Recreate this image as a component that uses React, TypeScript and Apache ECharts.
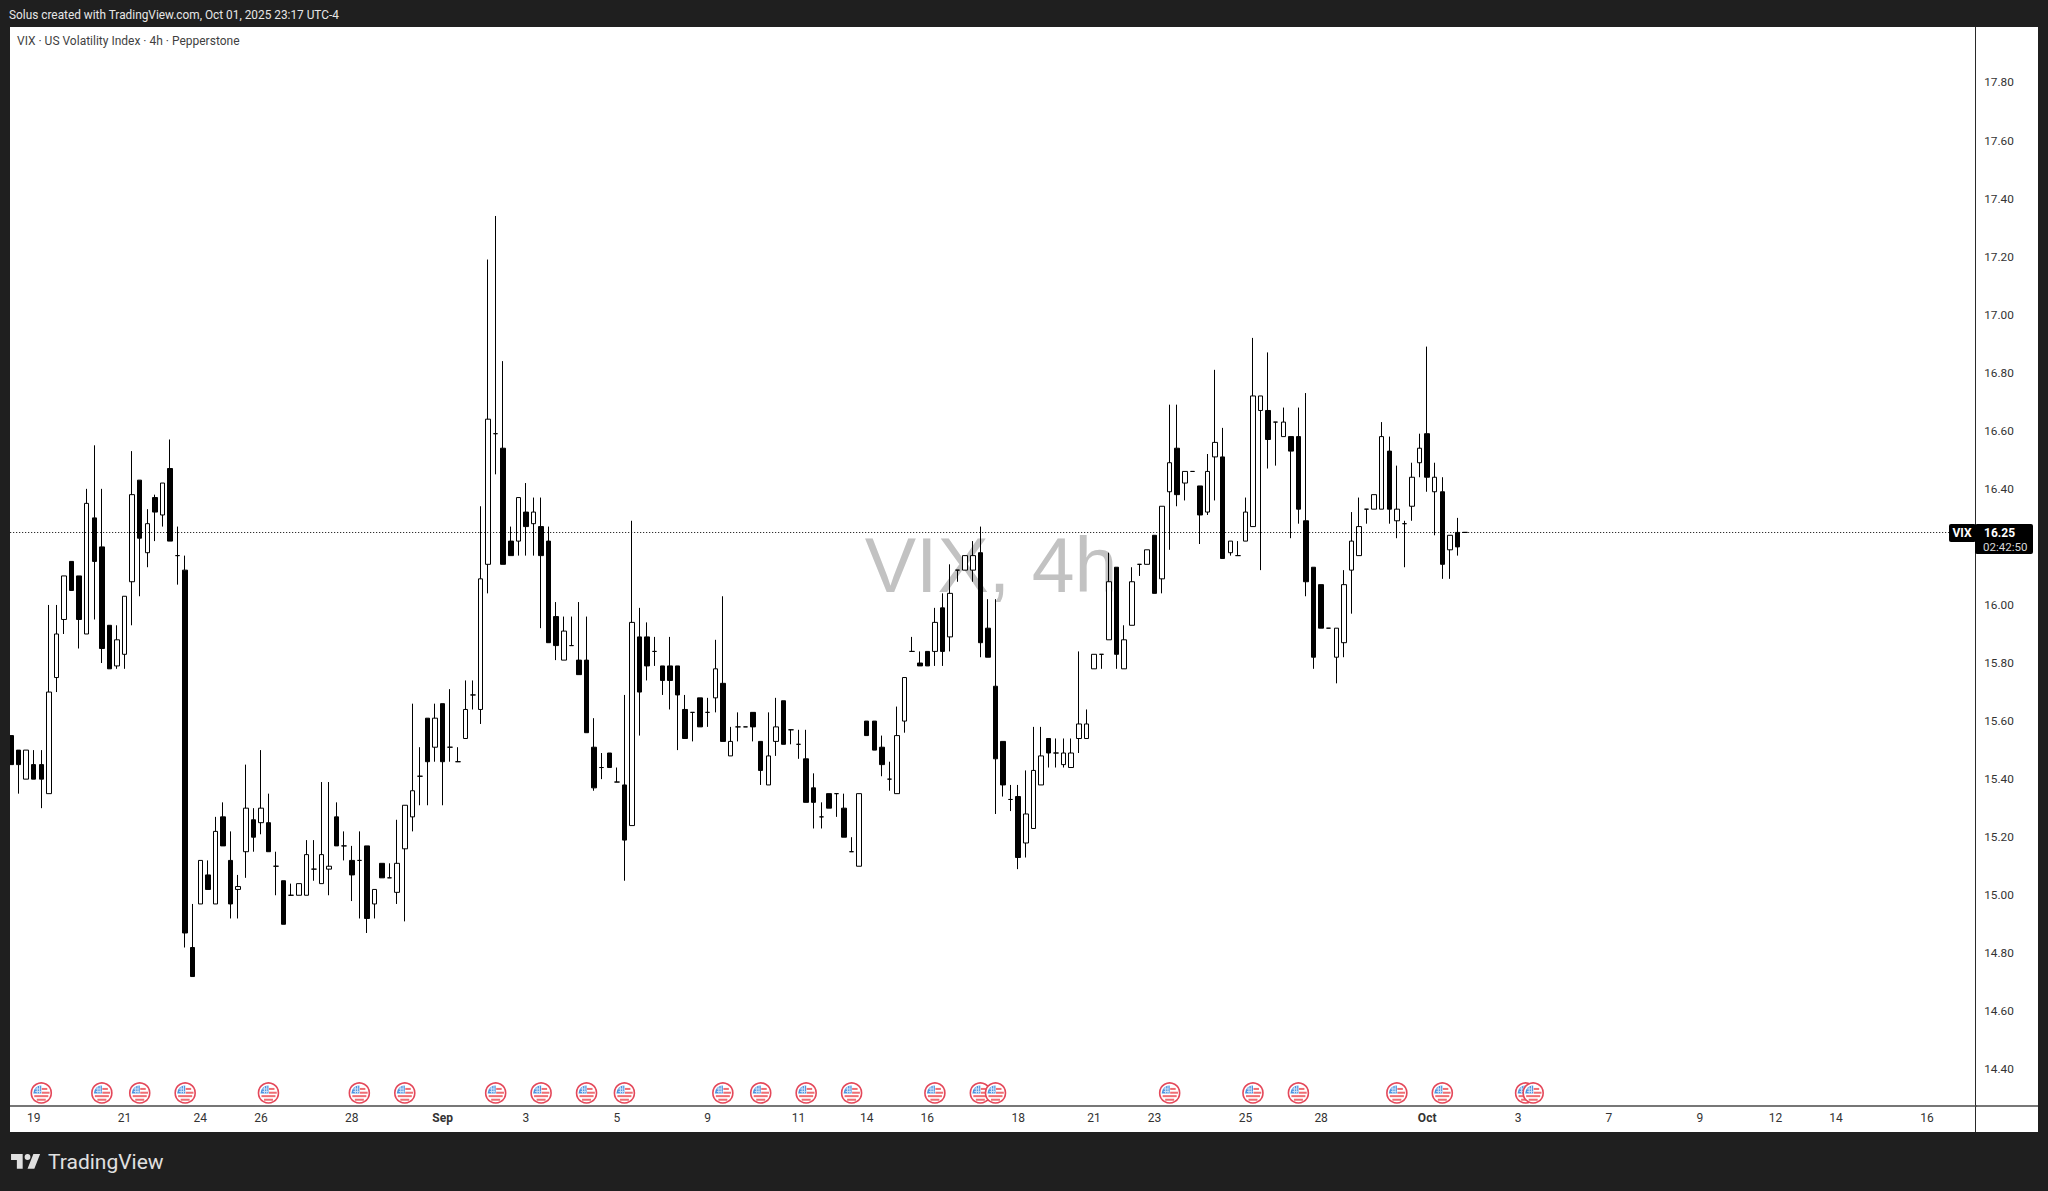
import React, { useEffect, useRef } from "react";
import * as echarts from "echarts";

const opens = [15.55,15.50,15.40,15.45,15.45,15.35,15.75,15.95,16.15,16.10,15.90,16.30,16.20,15.93,15.79,15.83,16.08,16.43,16.18,16.37,16.31,16.47,16.17,16.12,14.82,14.97,15.07,14.97,15.27,15.12,15.02,15.15,15.26,15.25,15.25,15.10,15.05,15.00,15.00,15.00,15.09,15.04,15.09,15.27,15.17,15.12,15.12,15.17,14.97,15.11,15.06,15.01,15.16,15.27,15.41,15.61,15.51,15.66,15.51,15.46,15.54,15.69,15.64,16.14,16.59,16.54,16.22,16.22,16.32,16.28,16.27,16.22,15.96,15.81,15.86,15.81,15.81,15.51,15.44,15.49,15.39,15.38,15.24,15.89,15.89,15.84,15.79,15.79,15.79,15.64,15.63,15.68,15.63,15.68,15.73,15.48,15.58,15.58,15.63,15.53,15.38,15.53,15.67,15.57,15.52,15.47,15.37,15.27,15.35,15.35,15.30,15.15,15.10,15.60,15.60,15.51,15.40,15.35,15.60,15.84,15.80,15.84,15.84,15.99,15.89,16.12,16.12,16.12,16.18,15.92,15.72,15.53,15.33,15.34,15.18,15.23,15.38,15.54,15.49,15.45,15.44,15.54,15.54,15.78,15.83,15.88,16.13,15.78,15.93,16.14,16.14,16.24,16.09,16.39,16.54,16.42,16.46,16.41,16.32,16.51,16.51,16.18,16.17,16.22,16.27,16.67,16.67,16.63,16.58,16.58,16.58,16.29,16.13,16.07,15.92,15.82,15.87,16.12,16.17,16.33,16.33,16.33,16.53,16.29,16.28,16.34,16.49,16.59,16.39,16.39,16.19,16.25,16.25];
const closes = [15.45,15.45,15.50,15.40,15.40,15.70,15.90,16.10,16.05,15.95,16.35,16.15,15.85,15.78,15.88,16.03,16.38,16.23,16.28,16.32,16.42,16.22,16.17,14.87,14.72,15.12,15.02,15.22,15.17,14.97,15.03,15.30,15.20,15.30,15.15,15.10,14.90,15.00,15.04,15.14,15.09,15.14,15.10,15.17,15.17,15.07,15.12,14.92,15.02,15.06,15.06,15.11,15.31,15.36,15.41,15.46,15.61,15.46,15.51,15.46,15.64,15.69,16.09,16.64,16.59,16.14,16.17,16.37,16.27,16.32,16.17,15.87,15.86,15.91,15.86,15.76,15.56,15.37,15.44,15.44,15.39,15.19,15.94,15.70,15.79,15.84,15.74,15.74,15.69,15.54,15.63,15.58,15.63,15.78,15.53,15.53,15.58,15.58,15.58,15.43,15.48,15.58,15.52,15.57,15.52,15.32,15.32,15.27,15.30,15.35,15.20,15.15,15.35,15.55,15.50,15.45,15.40,15.55,15.75,15.84,15.79,15.79,15.94,15.84,16.04,16.12,16.17,16.17,15.87,15.82,15.47,15.38,15.33,15.13,15.28,15.43,15.48,15.49,15.49,15.49,15.49,15.59,15.59,15.83,15.83,16.08,15.83,15.88,16.08,16.14,16.19,16.04,16.34,16.49,16.38,16.46,16.46,16.31,16.46,16.56,16.16,16.22,16.17,16.32,16.72,16.72,16.57,16.63,16.63,16.53,16.33,16.08,15.82,15.92,15.92,15.92,16.07,16.22,16.27,16.33,16.38,16.58,16.33,16.33,16.28,16.44,16.54,16.44,16.44,16.14,16.24,16.20,16.25];
const lows = [15.45,15.35,15.40,15.40,15.30,15.35,15.70,15.90,16.05,15.85,15.90,15.95,15.80,15.78,15.78,15.78,15.93,16.03,16.13,16.22,16.27,16.22,16.07,14.82,14.72,14.97,15.02,14.97,15.17,14.92,14.92,15.06,15.15,15.21,15.15,15.00,14.90,15.00,15.00,15.00,15.05,15.04,15.00,15.17,15.12,14.98,14.92,14.87,14.92,15.06,15.06,14.97,14.91,15.22,15.31,15.31,15.46,15.31,15.46,15.46,15.54,15.64,15.59,16.04,16.45,16.14,16.17,16.17,16.17,16.17,15.92,15.87,15.81,15.81,15.86,15.76,15.56,15.36,15.40,15.44,15.39,15.05,15.24,15.55,15.74,15.79,15.69,15.64,15.50,15.54,15.53,15.58,15.58,15.63,15.53,15.48,15.53,15.58,15.53,15.38,15.38,15.48,15.52,15.52,15.47,15.32,15.23,15.23,15.30,15.27,15.20,15.15,15.10,15.55,15.50,15.41,15.36,15.35,15.56,15.84,15.79,15.79,15.79,15.79,15.84,16.08,16.12,16.08,15.82,15.82,15.28,15.34,15.29,15.09,15.13,15.23,15.38,15.44,15.44,15.44,15.44,15.49,15.54,15.78,15.78,15.88,15.78,15.78,15.93,16.10,16.14,16.04,16.04,16.19,16.34,16.36,16.46,16.21,16.31,16.36,16.16,16.17,16.17,16.22,16.27,16.12,16.47,16.48,16.58,16.23,16.28,16.03,15.78,15.92,15.92,15.73,15.82,15.97,16.17,16.28,16.33,16.33,16.28,16.23,16.13,16.29,16.44,16.39,16.24,16.09,16.09,16.17,16.25];
const highs = [15.55,15.50,15.50,15.50,15.50,16.00,16.00,16.10,16.15,16.10,16.40,16.55,16.40,15.93,15.93,16.03,16.53,16.43,16.33,16.38,16.42,16.57,16.27,16.17,14.97,15.12,15.12,15.27,15.32,15.22,15.07,15.45,15.30,15.50,15.35,15.15,15.05,15.04,15.04,15.19,15.19,15.39,15.39,15.32,15.22,15.17,15.22,15.17,15.02,15.11,15.11,15.26,15.31,15.66,15.51,15.61,15.66,15.66,15.71,15.51,15.74,15.74,16.34,17.19,17.34,16.84,16.27,16.37,16.42,16.37,16.37,16.27,16.01,15.96,15.96,16.01,15.96,15.61,15.49,15.49,15.44,15.69,16.29,15.99,15.94,15.89,15.79,15.89,15.79,15.69,15.63,15.68,15.68,15.88,16.03,15.58,15.63,15.58,15.63,15.53,15.63,15.68,15.67,15.57,15.57,15.57,15.42,15.32,15.35,15.35,15.35,15.20,15.35,15.60,15.60,15.55,15.46,15.65,15.75,15.89,15.84,15.84,15.99,16.04,16.14,16.12,16.17,16.22,16.27,16.02,16.02,15.53,15.38,15.38,15.43,15.58,15.58,15.54,15.54,15.54,15.54,15.84,15.64,15.83,15.83,16.18,16.13,15.93,16.13,16.14,16.19,16.24,16.34,16.69,16.69,16.46,16.46,16.41,16.52,16.81,16.61,16.22,16.22,16.37,16.92,16.72,16.87,16.63,16.68,16.58,16.68,16.73,16.13,16.07,15.92,15.92,16.12,16.32,16.37,16.33,16.38,16.63,16.58,16.48,16.29,16.49,16.59,16.89,16.49,16.44,16.24,16.30,16.25];

const candleData = opens.map((o, i) => [o, closes[i], lows[i], highs[i]]);

const lastPrice = 16.25;
const priceTicks = [14.4,14.6,14.8,15.0,15.2,15.4,15.6,15.8,16.0,16.4,16.6,16.8,17.0,17.2,17.4,17.6,17.8];
const dateTickIndex = [3,15,25,33,45,57,68,80,92,104,113,121,133,143,151,163,173,187,199,211,223,233,241,253];
const dateTickLabel = ["19","21","24","26","28","Sep","3","5","9","11","14","16","18","21","23","25","28","Oct","3","7","9","12","14","16"];
const eventIndex = [4,12,17,23,34,46,52,64,70,76,81,94,99,105,111,122,128,130,153,164,170,183,189,200,201];
const eventLevel = 14.319;

const slotCount = 260;
const categories = Array.from({ length: slotCount }, (_, i) => {
  const at = dateTickIndex.indexOf(i);
  return at >= 0 ? dateTickLabel[at] : "";
});

const FRAME = "#1f1f1f";
const UI_FONT = "Roboto, 'Open Sans', sans-serif";

function drawFlag(params: any, api: any) {
  const [cx, cy] = api.coord([api.value(0), api.value(1)]);
  const red = "#ee6d73";
  const stripe = (x: number, y: number, width: number, height: number) => ({
    type: "rect",
    shape: { x: cx + x, y: cy + y, width, height },
    style: { fill: red },
  });
  return {
    type: "group",
    children: [
      { type: "circle", shape: { cx, cy, r: 10 }, style: { fill: "#ffffff", stroke: "#e4485a", lineWidth: 1.6 } },
      { type: "sector", shape: { cx, cy: cy + 0.5, r: 8, r0: 0, startAngle: Math.PI, endAngle: Math.PI * 1.5 }, style: { fill: "#4d93e0" } },
      { type: "rect", shape: { x: cx - 6, y: cy - 4.5, width: 5, height: 1 }, style: { fill: "#cfe3f8" } },
      { type: "rect", shape: { x: cx - 6, y: cy - 2, width: 5.5, height: 1 }, style: { fill: "#cfe3f8" } },
      { type: "rect", shape: { x: cx - 4.5, y: cy - 6.5, width: 1, height: 7 }, style: { fill: "#cfe3f8" } },
      { type: "rect", shape: { x: cx - 2.2, y: cy - 7.5, width: 1, height: 8 }, style: { fill: "#cfe3f8" } },
      stripe(0.5, -5, 5.5, 2),
      stripe(0.5, -1.2, 7.8, 2),
      stripe(-7, 2.2, 14, 2),
      stripe(-4.5, 5.8, 9, 2),
    ],
  };
}

echarts.graphic.registerShape(
  "tvLogo",
  echarts.graphic.extendPath(
    "M14 6H2v6h6v9h6V6Zm12 15h-7l6-15h7l-6 15Zm-7-9a3 3 0 1 0 0-6 3 3 0 0 0 0 6Z",
    {}
  )
);

export default function App() {
  const ref = useRef<HTMLDivElement>(null);

  useEffect(() => {
    document.body.style.margin = "0";
    const chart = echarts.init(ref.current!, undefined, { renderer: "svg" });
    chart.setOption({
      animation: false,
      backgroundColor: FRAME,
      grid: { left: 7.2, top: 27, width: 1969, height: 1079, containLabel: false },
      xAxis: {
        type: "category",
        data: categories,
        boundaryGap: true,
        axisLine: { show: true, lineStyle: { color: "#4a4a4a", width: 1.5 } },
        axisTick: { show: false },
        splitLine: { show: false },
        axisLabel: {
          interval: 0,
          margin: 6,
          color: "#333333",
          fontFamily: UI_FONT,
          fontSize: 12,
          formatter: (v: string) => (v === "Sep" || v === "Oct" ? `{m|${v}}` : v),
          rich: { m: { fontWeight: "bold", color: "#333333", fontFamily: UI_FONT, fontSize: 12 } },
        },
      },
      yAxis: {
        type: "value",
        position: "right",
        min: 14.274,
        max: 17.991,
        scale: true,
        axisLine: { show: false },
        axisTick: { show: false },
        splitLine: { show: false },
        axisLabel: {
          customValues: priceTicks,
          margin: 8,
          color: "#333333",
          fontFamily: UI_FONT,
          fontSize: 11.8,
          formatter: (v: number) => v.toFixed(2),
        },
      },
      series: [
        {
          type: "candlestick",
          data: candleData,
          barWidth: 5,
          z: 2,
          itemStyle: {
            color: "#ffffff",
            color0: "#000000",
            borderColor: "#000000",
            borderColor0: "#000000",
            borderColorDoji: "#000000",
            borderWidth: 1,
          },
          markLine: {
            silent: true,
            symbol: "none",
            animation: false,
            label: { show: false },
            lineStyle: { color: "#000000", width: 1, type: [1, 2] },
            data: [{ yAxis: lastPrice }],
          },
        },
        {
          type: "custom",
          data: eventIndex.map((i) => [i, eventLevel]),
          renderItem: drawFlag,
          clip: false,
          silent: true,
          z: 3,
        },
      ],
      graphic: [
        { type: "rect", z: -10, shape: { x: 10, y: 27, width: 2028, height: 1105 }, style: { fill: "#ffffff" } },
        {
          type: "text",
          z: -9,
          x: 991,
          y: 565,
          style: {
            text: "VIX, 4h",
            fill: "#c2c2c2",
            font: "77px 'Liberation Sans', sans-serif",
            textAlign: "center",
            textVerticalAlign: "middle",
          },
        },
        { type: "rect", z: 50, shape: { x: 0, y: 0, width: 10, height: 1191 }, style: { fill: FRAME } },
        { type: "line", z: 50, shape: { x1: 1975.5, y1: 27, x2: 1975.5, y2: 1132 }, style: { stroke: "#2a2a2a", lineWidth: 1 } },
        { type: "line", z: 50, shape: { x1: 1975, y1: 1106, x2: 2038, y2: 1106 }, style: { stroke: "#4a4a4a", lineWidth: 1.5 } },
        {
          type: "text", z: 50, x: 9, y: 15,
          style: { text: "Solus created with TradingView.com, Oct 01, 2025 23:17 UTC-4", fill: "#e6e6e6", font: `11.85px ${UI_FONT}`, textVerticalAlign: "middle" },
        },
        {
          type: "text", z: 50, x: 17, y: 41,
          style: { text: "VIX · US Volatility Index · 4h · Pepperstone", fill: "#3f3f3f", font: `12px ${UI_FONT}`, textVerticalAlign: "middle" },
        },
        { type: "tvLogo", z: 50, x: 9.1, y: 1148.3, scaleX: 0.97, scaleY: 0.97, style: { fill: "#e0e0e0" } },
        {
          type: "text", z: 50, x: 48, y: 1162,
          style: { text: "TradingView", fill: "#e0e0e0", font: `400 21px ${UI_FONT}`, textVerticalAlign: "middle" },
        },
        { type: "rect", z: 50, shape: { x: 1949, y: 524, width: 27, height: 18, r: 2 }, style: { fill: "#000000" } },
        { type: "rect", z: 50, shape: { x: 1975, y: 524, width: 58, height: 30, r: 2 }, style: { fill: "#000000" } },
        { type: "text", z: 51, x: 1962, y: 533, style: { text: "VIX", fill: "#ffffff", font: `bold 12px ${UI_FONT}`, textAlign: "center", textVerticalAlign: "middle" } },
        { type: "text", z: 51, x: 1984, y: 533, style: { text: lastPrice.toFixed(2), fill: "#ffffff", font: `bold 12px ${UI_FONT}`, textVerticalAlign: "middle" } },
        { type: "text", z: 51, x: 1983, y: 547, style: { text: "02:42:50", fill: "#d8d8d8", font: `11.5px ${UI_FONT}`, textVerticalAlign: "middle" } },
      ],
    });
    return () => chart.dispose();
  }, []);

  return (
    <div style={{ position: "fixed", left: 0, top: 0, width: 2048, height: 1191 }}>
      <div ref={ref} style={{ width: 2048, height: 1191 }} />
    </div>
  );
}
